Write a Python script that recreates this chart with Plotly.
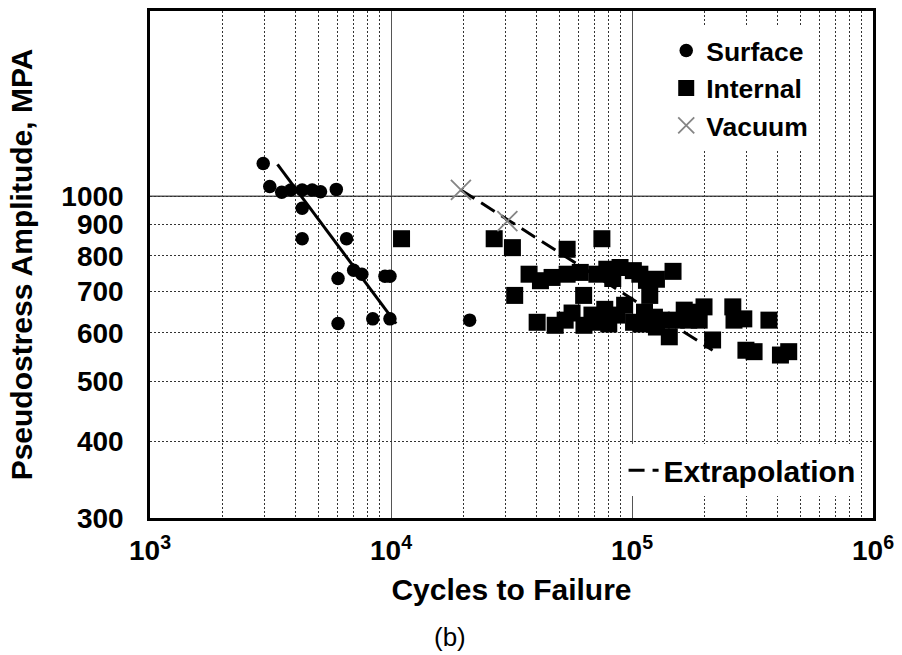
import plotly.graph_objects as go

# ---- data ----
surface_N = [2950, 3140, 3520, 3840, 4280, 4710, 5100, 5930, 4280, 4280,
             6540, 6030, 7000, 7570, 9440, 9900, 6030, 8400, 9900, 21200]
surface_S = [1130, 1037, 1015, 1024, 1024, 1024, 1017, 1026, 956, 853,
             853, 735, 758, 747, 741, 741, 621, 632, 632, 629]

internal_N = [11060, 26800, 31900, 53800, 75000, 32600,
              37400, 41700, 46600, 53800, 61000, 63000, 71500, 78600, 83200, 89200,
              101300, 107800, 114800, 118500, 126300, 148000,
              40400, 48000, 52800, 56400, 63200, 68200, 70100, 77100, 80100, 86400,
              93200, 101500, 109500, 112700, 123900, 126300, 132400, 142800,
              152700, 164700, 172000, 176000, 190000, 199000, 216000, 262000, 265000,
              291000, 297000, 321000, 370000, 413000, 447000]
internal_S = [853, 853, 825, 820, 853, 690,
              747, 729, 738, 747, 752, 690, 747, 761, 735, 766,
              757, 747, 730, 690, 733, 755,
              624, 617, 629, 646, 617, 641, 624, 655, 620, 641,
              665, 624, 620, 648, 636, 613, 629, 591,
              629, 653, 629, 648, 629, 661, 584, 661, 629,
              632, 562, 559, 629, 552, 559]

vacuum_N = [19500, 30400]
vacuum_S = [1024, 911]

surface_fit_N = [3380, 10500]
surface_fit_S = [1127, 621]

extrap_N = [19500, 216000]
extrap_S = [1024, 562]

x_ticks = [1e3, 1e4, 1e5, 1e6]
x_ticktext = ["10<sup>3</sup>", "10<sup>4</sup>", "10<sup>5</sup>", "10<sup>6</sup>"]
x_minor = [m * d for d in (1e3, 1e4, 1e5) for m in range(2, 10)]
y_ticks = [300, 400, 500, 600, 700, 800, 900, 1000]
y_ticktext = [str(v) for v in y_ticks]

FONT = "Liberation Sans, Arial, sans-serif"

fig = go.Figure()

fig.add_trace(go.Scatter(
    x=surface_fit_N, y=surface_fit_S, mode="lines",
    line=dict(color="black", width=3), showlegend=False, hoverinfo="skip"))

fig.add_trace(go.Scatter(
    x=extrap_N, y=extrap_S, mode="lines", name="Extrapolation",
    line=dict(color="black", width=3, dash="16px,8px"), legend="legend2"))

fig.add_trace(go.Scatter(
    x=surface_N, y=surface_S, mode="markers", name="Surface",
    marker=dict(symbol="circle", size=13.5, color="black")))

fig.add_trace(go.Scatter(
    x=internal_N, y=internal_S, mode="markers", name="Internal",
    marker=dict(symbol="square", size=17, color="black")))

fig.add_trace(go.Scatter(
    x=vacuum_N, y=vacuum_S, mode="markers", name="Vacuum",
    marker=dict(symbol="x-thin-open", size=20, color="#858585",
                line=dict(color="#858585", width=1.8))))

fig.add_shape(type="line", xref="paper", x0=0, x1=1, yref="y", y0=1000, y1=1000,
              line=dict(color="#555555", width=1.3), layer="below")

fig.update_xaxes(
    type="log", range=[3, 6],
    tickvals=x_ticks, ticktext=x_ticktext,
    showgrid=True, gridcolor="#555555", gridwidth=1.3,
    minor=dict(tickvals=x_minor, showgrid=True, gridcolor="#333333",
               griddash="2px,2px", gridwidth=1, ticks=""),
    showline=True, mirror=True, linecolor="black", linewidth=2.5,
    ticks="", zeroline=False, ticklabelstandoff=6,
    tickfont=dict(family=FONT, size=28, color="black", weight="bold"),
    title=dict(text="Cycles to Failure", standoff=14,
               font=dict(family=FONT, size=30, color="black", weight="bold")))

fig.update_yaxes(
    type="log", range=[2.4771213, 3.30103],
    tickvals=y_ticks, ticktext=y_ticktext,
    showgrid=True, gridcolor="#333333", griddash="2px,2px", gridwidth=1,
    showline=True, mirror=True, linecolor="black", linewidth=2.5,
    ticks="", zeroline=False, ticklabelstandoff=18,
    tickfont=dict(family=FONT, size=28, color="black", weight="bold"),
    title=dict(text="Pseudostress Amplitude, MPA", standoff=20,
               font=dict(family=FONT, size=30, color="black", weight="bold")))

fig.add_annotation(text="(b)", xref="paper", yref="paper",
                   x=(452 - 150) / 727, y=-0.235, xanchor="center", yanchor="middle",
                   showarrow=False, font=dict(family=FONT, size=26, color="black"))

fig.update_layout(
    width=902, height=655,
    margin=dict(l=150, r=25, t=8, b=137),
    paper_bgcolor="white", plot_bgcolor="white",
    legend=dict(x=0.714, y=0.969, xanchor="left", yanchor="top",
                bgcolor="white", borderwidth=0,
                font=dict(family=FONT, size=26.5, color="black", weight="bold"),
                traceorder="normal"),
    legend2=dict(x=0.655, y=0.094, xanchor="left", yanchor="middle",
                 bgcolor="white", borderwidth=0,
                 font=dict(family=FONT, size=30, color="black", weight="bold")),
)

fig.write_html("out.html", config={"displayModeBar": False},
               post_script="document.body.style.margin='0px';document.body.style.padding='0px';")
